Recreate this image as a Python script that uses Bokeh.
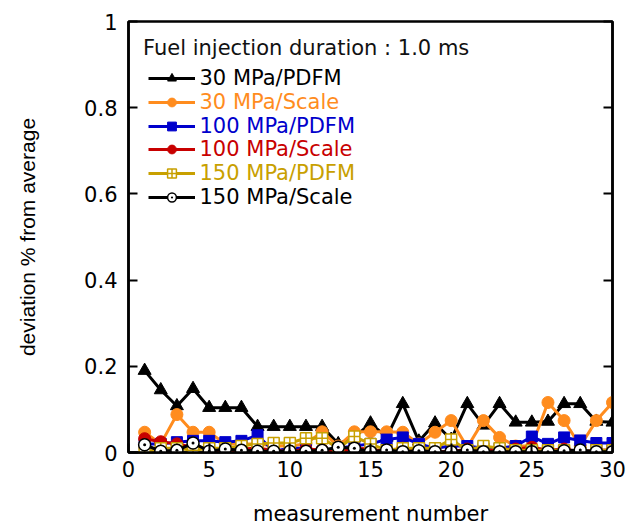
from bokeh.plotting import figure
from bokeh.models import Range1d, LinearAxis, FixedTicker, Legend, LegendItem, Label, ColumnDataSource
from bokeh.embed import file_html
from bokeh.resources import INLINE

# ---------------- data ----------------
measurement = list(range(1, 31))

pdfm_30 = [0.19, 0.145, 0.108, 0.148, 0.104, 0.104, 0.104, 0.06, 0.06, 0.06,
           0.06, 0.06, 0.02, 0.035, 0.068, 0.035, 0.113, 0.026, 0.068, 0.03,
           0.113, 0.063, 0.113, 0.07, 0.07, 0.072, 0.113, 0.113, 0.072, 0.07]
scale_30 = [0.047, 0.02, 0.088, 0.047, 0.047, 0.02, 0.02, 0.02, 0.015, 0.015,
            0.02, 0.048, 0.015, 0.048, 0.048, 0.048, 0.047, 0.02, 0.047, 0.074,
            0.012, 0.074, 0.035, 0.015, 0.015, 0.116, 0.074, 0.015, 0.074, 0.116]
pdfm_100 = [0.02, 0.02, 0.024, 0.027, 0.027, 0.024, 0.027, 0.04, 0.003, 0.01,
            0.01, 0.0, 0.01, 0.015, 0.02, 0.03, 0.035, 0.02, 0.01, 0.015,
            0.015, 0.01, 0.01, 0.015, 0.037, 0.02, 0.035, 0.028, 0.022, 0.022]
scale_100 = [0.032, 0.025, 0.02, 0.012, 0.008, 0.002, 0.008, 0.01, 0.005, 0.002,
             0.008, 0.006, 0.002, 0.01, 0.008, 0.002, 0.01, 0.006, 0.002, 0.002,
             0.008, 0.006, 0.005, 0.008, 0.012, 0.005, 0.008, 0.002, 0.005, 0.006]
pdfm_150 = [0.0, 0.01, 0.01, 0.005, 0.01, 0.01, 0.015, 0.02, 0.022, 0.022,
            0.033, 0.033, 0.01, 0.037, 0.02, 0.005, 0.01, 0.01, 0.01, 0.03,
            0.005, 0.015, 0.01, 0.005, 0.005, 0.005, 0.005, 0.0, 0.005, 0.005]
scale_150 = [0.018, 0.003, 0.005, 0.022, 0.003, 0.008, 0.005, 0.003, 0.003, 0.003,
             0.003, 0.005, 0.012, 0.01, 0.002, 0.006, 0.002, 0.004, 0.002, 0.002,
             0.006, 0.002, 0.002, 0.002, 0.002, 0.002, 0.004, 0.006, 0.002, 0.002]

series_labels = ["30 MPa/PDFM", "30 MPa/Scale", "100 MPa/PDFM",
                 "100 MPa/Scale", "150 MPa/PDFM", "150 MPa/Scale"]
series_values = [pdfm_30, scale_30, pdfm_100, scale_100, pdfm_150, scale_150]

x_ticks = [0, 5, 10, 15, 20, 25, 30]
y_ticks = [0, 0.2, 0.4, 0.6, 0.8, 1.0]
y_tick_labels = ["0", "0.2", "0.4", "0.6", "0.8", "1"]

legend_title = "Fuel injection duration : 1.0 ms"
x_label = "measurement number"
y_label = "deviation % from average"

# ---------------- styles ----------------
colors = ["#000000", "#ff8c1e", "#0000cc", "#c80000", "#c8a000", "#000000"]
markers = ["triangle", "circle", "square", "circle", "square_cross", "circle_dot"]
sizes = [13, 12, 11, 12, 11, 12]
fills = ["#000000", "#ff8c1e", "#0000cc", "#c80000", "#ffffff", "#ffffff"]
mlw = [1, 1, 1, 1, 1.5, 1.5]

FONT = "DejaVu Sans"

p = figure(width=630, height=528, output_backend="svg", toolbar_location=None,
           x_range=Range1d(0, 30), y_range=Range1d(0, 1),
           min_border_left=128, min_border_right=18, min_border_top=21, min_border_bottom=75)
p.background_fill_color = "white"
p.border_fill_color = "white"
p.outline_line_color = "black"
p.outline_line_width = 2.5
p.xgrid.visible = False
p.ygrid.visible = False

for ax in (p.xaxis[0], p.yaxis[0]):
    ax.major_tick_in = 9
    ax.major_tick_out = 0
    ax.minor_tick_line_color = None
    ax.axis_line_width = 2.5
    ax.major_tick_line_width = 2
    ax.major_label_text_font = FONT
    ax.major_label_text_font_size = "21px"
    ax.major_label_text_color = "black"
    ax.axis_label_text_font_style = "normal"
    ax.axis_label_text_color = "black"

p.xaxis.ticker = FixedTicker(ticks=x_ticks)
p.xaxis.major_label_standoff = 8
p.xaxis.axis_label = x_label
p.xaxis.axis_label_text_font = FONT
p.xaxis.axis_label_text_font_size = "21px"
p.xaxis.axis_label_standoff = 22

p.yaxis.ticker = FixedTicker(ticks=y_ticks)
p.yaxis.major_label_overrides = {t: s for t, s in zip(y_ticks, y_tick_labels)}
p.yaxis.major_label_standoff = 11
p.yaxis.axis_label = y_label
p.yaxis.axis_label_text_font = "Liberation Sans"
p.yaxis.axis_label_text_font_size = "21px"
p.yaxis.axis_label_standoff = 42

right = LinearAxis(ticker=FixedTicker(ticks=y_ticks), major_tick_in=9, major_tick_out=0,
                   minor_tick_line_color=None,
                   major_label_overrides={t: "" for t in y_ticks},
                   major_label_standoff=0, axis_line_width=2.5, major_tick_line_width=2)
p.add_layout(right, "right")

legend_x = 19.5
legend_y0 = 362
row_step = 23.8

for i in range(len(series_values)):
    src = ColumnDataSource(dict(x=measurement, y=series_values[i]))
    ln = p.line("x", "y", source=src, line_color=colors[i], line_width=3)
    sc = p.scatter("x", "y", source=src, marker=markers[i], size=sizes[i],
                   fill_color=fills[i], line_color=colors[i], line_width=mlw[i])
    leg = Legend(items=[LegendItem(label=series_labels[i], renderers=[ln, sc])],
                 location=(legend_x, legend_y0 - i * row_step),
                 glyph_width=47, glyph_height=22, label_height=22, label_standoff=5,
                 padding=0, margin=0, spacing=0,
                 border_line_alpha=0, background_fill_alpha=0,
                 label_text_font=FONT, label_text_font_size="21px",
                 label_text_color=colors[i])
    p.add_layout(leg)

title = Label(x=14.5, y=405, x_units="screen", y_units="screen", text=legend_title,
              text_font=FONT, text_font_size="21px", text_color="#111111",
              text_baseline="middle", text_align="left")
p.add_layout(title)

open("out.html", "w").write(file_html(p, INLINE))
